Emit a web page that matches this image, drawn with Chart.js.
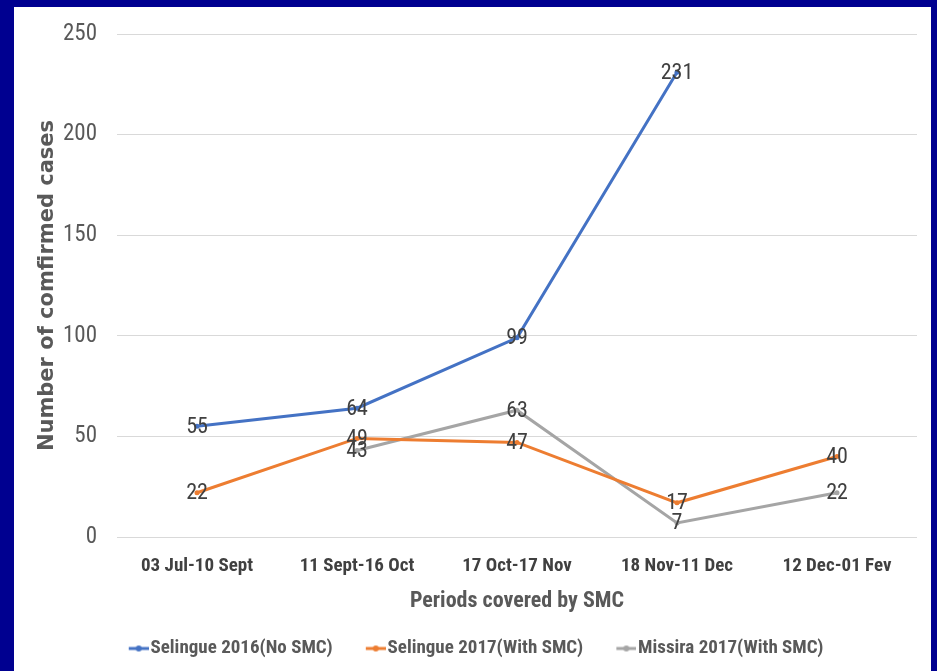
<!DOCTYPE html>
<html>
<head>
<meta charset="utf-8">
<script src="https://cdn.jsdelivr.net/npm/chart.js@4.4.0/dist/chart.umd.min.js"></script>
<style>
  html, body { margin: 0; padding: 0; }
  body { width: 937px; height: 671px; background: #000090; position: relative; overflow: hidden; }
  #box { position: absolute; left: 14px; top: 7px; width: 917px; height: 664px; background: #fff; }
</style>
</head>
<body>
<div id="box"><canvas id="chart"></canvas></div>
<script>
const periods = ['03 Jul-10 Sept', '11 Sept-16 Oct', '17 Oct-17 Nov', '18 Nov-11 Dec', '12 Dec-01 Fev'];
const selingue2016 = [55, 64, 99, 231, null];
const selingue2017 = [22, 49, 47, 17, 40];
const missira2017 = [null, 43, 63, 7, 22];
const seriesNames = ['Selingue 2016(No SMC)', 'Selingue 2017(With SMC)', 'Missira 2017(With SMC)'];
const seriesColors = ['#4472C4', '#ED7D31', '#A5A5A5'];

const NARROW = "'Liberation Sans Narrow', 'Roboto Condensed', 'Liberation Sans', sans-serif";

// line + dot mark for the legend, drawn at the right end of a wider image
// so the blank left part gives the gap between legend items
function legendMark(color) {
    const c = document.createElement('canvas');
    c.width = 49; c.height = 8;
    const g = c.getContext('2d');
    g.strokeStyle = color; g.lineWidth = 3;
    g.beginPath(); g.moveTo(29, 4); g.lineTo(49, 4); g.stroke();
    g.fillStyle = color;
    g.beginPath(); g.arc(39, 4, 3, 0, Math.PI * 2); g.fill();
    return c;
}

const valueLabels = {
    id: 'valueLabels',
    afterDatasetsDraw(chart) {
        const ctx = chart.ctx;
        ctx.save();
        ctx.font = '22px ' + NARROW;
        ctx.fillStyle = '#404040';
        ctx.textAlign = 'center';
        ctx.textBaseline = 'middle';
        chart.data.datasets.forEach((ds, i) => {
            chart.getDatasetMeta(i).data.forEach((pt, j) => {
                if (ds.data[j] == null) return;
                ctx.fillText(String(ds.data[j]), pt.x, pt.y + 1);
            });
        });
        ctx.restore();
    }
};

const seriesData = [selingue2016, selingue2017, missira2017];

new Chart(document.getElementById('chart'), {
    type: 'line',
    data: {
        labels: periods,
        datasets: seriesData.map((d, i) => ({
            label: seriesNames[i],
            data: d,
            borderColor: seriesColors[i],
            backgroundColor: seriesColors[i],
            borderWidth: 3,
            pointRadius: 2.5,
            pointBorderWidth: 0,
            tension: 0
        }))
    },
    options: {
        responsive: true,
        maintainAspectRatio: false,
        animation: false,
        layout: { padding: { top: 27, right: 14, bottom: 3, left: 0 } },
        plugins: {
            tooltip: { enabled: false },
            legend: {
                position: 'bottom',
                labels: {
                    usePointStyle: true,
                    pointStyleWidth: 33.5,
                    padding: 12,
                    color: '#595959',
                    font: { family: NARROW, size: 19, weight: 'bold' },
                    generateLabels(chart) {
                        return chart.data.datasets.map((ds, i) => ({
                            text: ds.label,
                            fillStyle: ds.borderColor,
                            strokeStyle: ds.borderColor,
                            fontColor: '#595959',
                            lineWidth: 0,
                            pointStyle: legendMark(ds.borderColor),
                            datasetIndex: i
                        }));
                    }
                }
            }
        },
        scales: {
            x: {
                offset: true,
                grid: { display: false, drawTicks: false },
                border: { display: false },
                ticks: {
                    padding: 18,
                    color: '#404040',
                    font: { family: NARROW, size: 19, weight: 'bold' },
                    maxRotation: 0
                },
                title: {
                    display: true,
                    text: 'Periods covered by SMC',
                    color: '#595959',
                    font: { family: NARROW, size: 22, weight: 'bold' },
                    padding: { top: 4, bottom: 12 }
                },
                afterFit(scale) { scale.height = 90; }
            },
            y: {
                min: 0,
                max: 250,
                grid: { color: '#d9d9d9', lineWidth: 1, drawTicks: false },
                border: { display: false },
                ticks: {
                    stepSize: 50,
                    padding: 20,
                    color: '#595959',
                    font: { family: NARROW, size: 23 }
                },
                title: {
                    display: true,
                    text: 'Number of comfirmed cases',
                    color: '#595959',
                    font: { family: "'DejaVu Sans', sans-serif", size: 21, weight: 'bold' },
                    padding: { top: 21, bottom: 0 }
                },
                afterFit(scale) {
                    scale.width = 103;
                    // tick padding otherwise pushes the plot top down
                    scale.paddingTop = 0;
                    scale.paddingBottom = 0;
                }
            }
        }
    },
    plugins: [valueLabels]
});
</script>
</body>
</html>
